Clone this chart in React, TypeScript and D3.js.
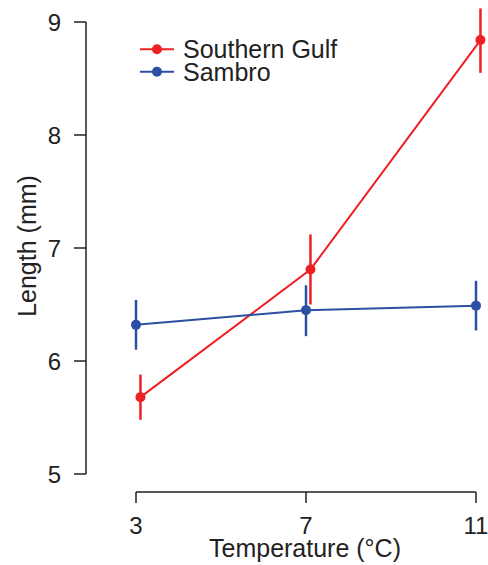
import React from "react";
import * as d3 from "d3";

const temps = [3, 7, 11];
const gulfMean = [5.68, 6.81, 8.84];
const gulfLow = [5.48, 6.5, 8.55];
const gulfHigh = [5.88, 7.12, 9.12];
const sambroMean = [6.32, 6.45, 6.49];
const sambroLow = [6.1, 6.22, 6.27];
const sambroHigh = [6.54, 6.67, 6.71];
const yTicks = [5, 6, 7, 8, 9];
const seriesNames = ["Southern Gulf", "Sambro"];

const RED = "#ee2024";
const BLUE = "#2d4fa3";
const TEXT = "#222";
const FONT = "Liberation Sans, Arial, Helvetica, sans-serif";

export default function App() {
  const W = 488, H = 565;
  const x = d3.scaleLinear().domain([3, 11]).range([136, 476]);
  const y = d3.scaleLinear().domain([5, 9]).range([474, 22]);
  const line = d3.line<[number, number]>().x((d) => x(d[0])).y((d) => y(d[1]));

  const series = [
    { name: seriesNames[0], color: RED, dodge: 0.105, mean: gulfMean, lo: gulfLow, hi: gulfHigh },
    { name: seriesNames[1], color: BLUE, dodge: 0, mean: sambroMean, lo: sambroLow, hi: sambroHigh },
  ];

  const axisX = 86;
  const axisY = 492;

  return (
    <svg width={W} height={H} style={{ position: "absolute", left: 0, top: 0 }} fontFamily={FONT}>
      <rect width={W} height={H} fill="#fff" />
      {/* Y axis */}
      <line x1={axisX} x2={axisX} y1={y(9)} y2={y(5)} stroke={TEXT} strokeWidth={1.5} />
      {yTicks.map((t) => (
        <g key={t}>
          <line x1={axisX - 12} x2={axisX} y1={y(t)} y2={y(t)} stroke={TEXT} strokeWidth={1.5} />
          <text x={61} y={y(t)} dy="0.36em" textAnchor="end" fontSize={24} fill={TEXT}>
            {t}
          </text>
        </g>
      ))}
      {/* X axis */}
      <line x1={x(3)} x2={x(11)} y1={axisY} y2={axisY} stroke={TEXT} strokeWidth={1.5} />
      {temps.map((t) => (
        <g key={t}>
          <line x1={x(t)} x2={x(t)} y1={axisY} y2={axisY + 11} stroke={TEXT} strokeWidth={1.5} />
          <text x={x(t)} y={534} textAnchor="middle" fontSize={24} fill={TEXT}>
            {t}
          </text>
        </g>
      ))}
      <text x={305} y={557} textAnchor="middle" fontSize={25} fill={TEXT}>
        Temperature (°C)
      </text>
      <text transform={`translate(36,246) rotate(-90)`} textAnchor="middle" fontSize={25} fill={TEXT}>
        Length (mm)
      </text>

      {/* series */}
      {series.map((s) => {
        const pts: [number, number][] = temps.map((t, i) => [t + s.dodge, s.mean[i]]);
        return (
          <g key={s.name}>
            <path d={line(pts) || ""} fill="none" stroke={s.color} strokeWidth={2} />
            {temps.map((t, i) => (
              <line
                key={"e" + t}
                x1={x(t + s.dodge)}
                x2={x(t + s.dodge)}
                y1={y(s.lo[i])}
                y2={y(s.hi[i])}
                stroke={s.color}
                strokeWidth={2.5}
              />
            ))}
            {temps.map((t, i) => (
              <circle key={"p" + t} cx={x(t + s.dodge)} cy={y(s.mean[i])} r={5} fill={s.color} />
            ))}
          </g>
        );
      })}

      {/* legend */}
      {series.map((s, i) => {
        const ly = 49.3 + i * 22.4;
        return (
          <g key={"l" + s.name}>
            <line x1={140} x2={174} y1={ly} y2={ly} stroke={s.color} strokeWidth={2} />
            <circle cx={157} cy={ly} r={5} fill={s.color} />
            <text x={183} y={ly} dy="0.36em" fontSize={25} fill={TEXT}>
              {s.name}
            </text>
          </g>
        );
      })}
    </svg>
  );
}
